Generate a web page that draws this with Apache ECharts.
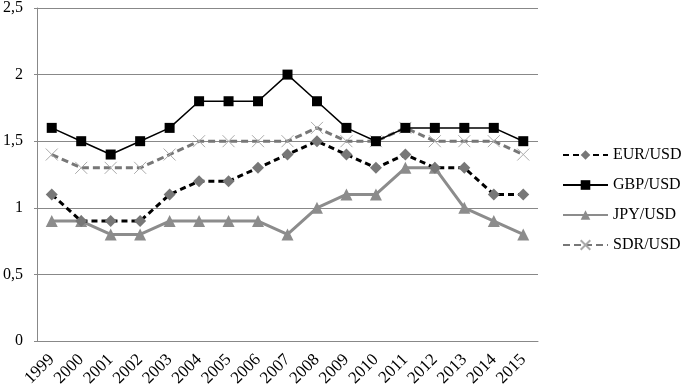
<!DOCTYPE html>
<html>
<head>
<meta charset="utf-8">
<script src="https://cdn.jsdelivr.net/npm/echarts@6/dist/echarts.min.js"></script>
<style>
  html, body { margin: 0; padding: 0; background: #fff; }
  #chart { width: 684px; height: 392px; }
</style>
</head>
<body>
<div id="chart"></div>
<script>
const years = ['1999', '2000', '2001', '2002', '2003', '2004', '2005', '2006', '2007',
  '2008', '2009', '2010', '2011', '2012', '2013', '2014', '2015']
const eurUsd = [1.1, 0.9, 0.9, 0.9, 1.1, 1.2, 1.2, 1.3, 1.4, 1.5, 1.4, 1.3, 1.4, 1.3, 1.3, 1.1, 1.1]
const gbpUsd = [1.6, 1.5, 1.4, 1.5, 1.6, 1.8, 1.8, 1.8, 2.0, 1.8, 1.6, 1.5, 1.6, 1.6, 1.6, 1.6, 1.5]
const jpyUsd = [0.9, 0.9, 0.8, 0.8, 0.9, 0.9, 0.9, 0.9, 0.8, 1.0, 1.1, 1.1, 1.3, 1.3, 1.0, 0.9, 0.8]
const sdrUsd = [1.4, 1.3, 1.3, 1.3, 1.4, 1.5, 1.5, 1.5, 1.5, 1.6, 1.5, 1.5, 1.6, 1.5, 1.5, 1.5, 1.4]

const font = "'Liberation Serif', 'DejaVu Serif', serif"
const cross = 'path://M0,0L10,10M10,0L0,10'

const chart = echarts.init(document.getElementById('chart'))
chart.setOption({
  animation: false,
  textStyle: { fontFamily: font },
  grid: { left: 36, right: 146, top: 6, bottom: 51 },
  legend: {
    orient: 'vertical',
    left: 562,
    top: 147,
    padding: 0,
    itemWidth: 45,
    itemHeight: 12,
    itemGap: 14,
    textStyle: { fontFamily: font, fontSize: 16, color: '#000' },
    data: ['EUR/USD', 'GBP/USD', 'JPY/USD', 'SDR/USD'],
  },
  xAxis: {
    type: 'category',
    data: years,
    axisLine: { lineStyle: { color: '#888' } },
    axisTick: { length: 5, lineStyle: { color: '#888' } },
    axisLabel: { rotate: 45, fontSize: 17, color: '#000', margin: 16, interval: 0, fontFamily: font },
  },
  yAxis: {
    type: 'value',
    min: 0,
    max: 2.5,
    interval: 0.5,
    axisLine: { show: true, lineStyle: { color: '#888' } },
    axisTick: { show: true, length: 3, lineStyle: { color: '#888' } },
    splitLine: { lineStyle: { color: '#888' } },
    axisLabel: {
      fontSize: 16, color: '#000', margin: 14, fontFamily: font,
      formatter: (v) => String(v).replace('.', ','),
    },
  },
  series: [
    {
      name: 'EUR/USD', type: 'line', data: eurUsd,
      symbol: 'diamond', symbolSize: 12,
      lineStyle: { color: '#000', width: 3, type: [6, 4] },
      itemStyle: { color: '#777' },
      z: 3,
    },
    {
      name: 'GBP/USD', type: 'line', data: gbpUsd,
      symbol: 'rect', symbolSize: 10,
      lineStyle: { color: '#000', width: 1.5 },
      itemStyle: { color: '#000' },
      z: 4,
    },
    {
      name: 'JPY/USD', type: 'line', data: jpyUsd,
      symbol: 'triangle', symbolSize: 12,
      lineStyle: { color: '#8c8c8c', width: 3 },
      itemStyle: { color: '#8c8c8c' },
      z: 2,
    },
    {
      name: 'SDR/USD', type: 'line', data: sdrUsd,
      symbol: cross, symbolSize: 12,
      lineStyle: { color: '#777', width: 3, type: [7, 4] },
      itemStyle: { color: 'none', borderColor: '#aaa', borderWidth: 1 },
      z: 3,
    },
  ],
})
</script>
</body>
</html>
